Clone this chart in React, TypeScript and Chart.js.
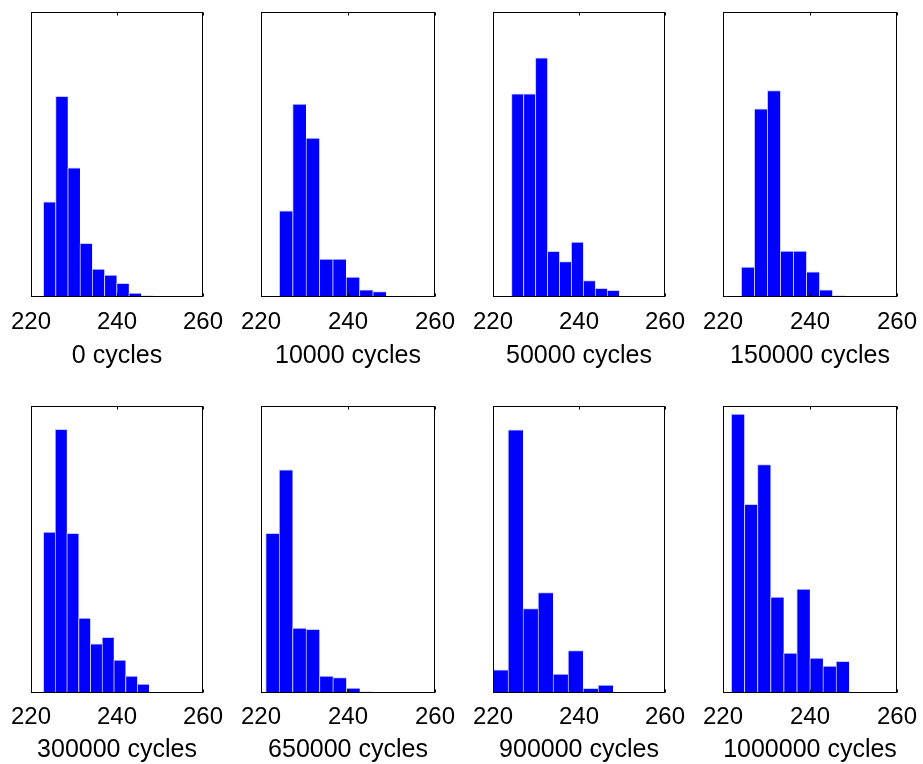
import React, { useEffect, useRef } from "react";
import { Chart, registerables } from "chart.js";

Chart.register(...registerables);

// ---------- data ----------
const xTickValues = [220, 240, 260];

const titles = [
  "0 cycles",
  "10000 cycles",
  "50000 cycles",
  "150000 cycles",
  "300000 cycles",
  "650000 cycles",
  "900000 cycles",
  "1000000 cycles",
];

// bin centres (x) and bar heights (relative counts, axis 0..100) per panel
const centers0 = [224.29, 227.13, 229.97, 232.81, 235.65, 238.49, 241.33, 244.17, 247.01, 249.85];
const counts0 = [33.4, 70.4, 45.3, 18.8, 9.8, 7.7, 4.8, 1.4, 0.5, 0.2];

const centers1 = [225.74, 228.81, 231.88, 234.95, 238.02, 241.09, 244.16, 247.23, 250.3, 253.37];
const counts1 = [30.2, 67.7, 55.8, 13.3, 13.3, 7.0, 2.5, 1.9, 0.1, 0.3];

const centers2 = [225.69, 228.47, 231.25, 234.03, 236.81, 239.59, 242.37, 245.15, 247.93, 250.71];
const counts2 = [71.3, 71.3, 83.9, 16.0, 12.4, 19.3, 5.8, 3.0, 2.3, 0.3];

const centers3 = [225.7, 228.69, 231.68, 234.67, 237.66, 240.65, 243.64, 246.63, 249.62, 252.61];
const counts3 = [10.5, 66.0, 72.4, 16.1, 16.1, 8.8, 2.5, 0.5, 0.1, 0.2];

const centers4 = [224.24, 226.97, 229.7, 232.43, 235.16, 237.89, 240.62, 243.35, 246.08, 248.81];
const counts4 = [56.1, 91.9, 55.6, 26.1, 17.1, 19.4, 11.5, 5.9, 3.1, 0.2];

const centers5 = [222.62, 225.71, 228.8, 231.89, 234.98, 238.07, 241.16, 244.25, 247.34, 250.43];
const counts5 = [55.6, 77.8, 22.6, 22.2, 5.9, 5.4, 1.7, 0.5, 0.1, 0.2];

const centers6 = [221.75, 225.24, 228.73, 232.22, 235.71, 239.2, 242.69, 246.18, 249.67, 253.16];
const counts6 = [8.1, 91.7, 29.4, 35.0, 6.6, 14.8, 1.6, 2.8, 0.1, 0.2];

const centers7 = [223.41, 226.42, 229.43, 232.44, 235.45, 238.46, 241.47, 244.48, 247.49, 250.5];
const counts7 = [97.2, 65.7, 79.6, 33.4, 13.9, 36.2, 12.2, 9.4, 11.0, 0.2];

const allCenters = [centers0, centers1, centers2, centers3, centers4, centers5, centers6, centers7];
const allCounts = [counts0, counts1, counts2, counts3, counts4, counts5, counts6, counts7];

// ---------- layout ----------
const colLeft = [31, 261, 493, 723];
const colWidth = [172, 174, 172, 174];
const rowTop = [12, 406];
const rowHeight = [285, 287];
const rowTickLine = [50, 48]; // px, tick label line box
const TITLE_LINE = 18; // px, title line box
const rowPadBottom = [10, 16];
const PAD_X = 25;
const PAD_T = 10;
const TICK_SIZE = 24;
const TITLE_SIZE = 25;
const FONT_FAMILY = "'Liberation Sans', Arial, Helvetica, sans-serif";

const framePlugin = {
  id: "frame",
  afterDatasetsDraw(chart: any) {
    const { ctx, chartArea: a, scales } = chart;
    ctx.save();
    ctx.strokeStyle = "#000";
    ctx.lineWidth = 1;
    const l = Math.round(a.left) + 0.5;
    const r = Math.round(a.right) - 0.5;
    const t = Math.round(a.top) + 0.5;
    const b = Math.round(a.bottom) - 0.5;
    ctx.strokeRect(l, t, r - l, b - t);
    const xs = scales.x;
    ctx.beginPath();
    for (const v of xTickValues) {
      const px = Math.round(xs.getPixelForValue(v)) + 0.5;
      ctx.moveTo(px, t);
      ctx.lineTo(px, t + 3);
      ctx.moveTo(px, b);
      ctx.lineTo(px, b - 3);
    }
    ctx.stroke();
    ctx.restore();
  },
};

function Panel({ index }: { index: number }) {
  const ref = useRef<HTMLCanvasElement | null>(null);
  const row = Math.floor(index / 4);
  const col = index % 4;
  const w = colWidth[col] + 2 * PAD_X;
  const h = PAD_T + rowHeight[row] + rowTickLine[row] + TITLE_LINE + rowPadBottom[row];

  useEffect(() => {
    if (!ref.current) return;
    const centers = allCenters[index];
    const counts = allCounts[index];
    const chart = new Chart(ref.current, {
      type: "bar",
      data: {
        datasets: [
          {
            data: centers.map((x, i) => ({ x, y: counts[i] })),
            backgroundColor: "#0000ff",
            borderColor: "#c8c8ff",
            borderWidth: { left: 1, top: 1, right: 0, bottom: 0 },
            borderSkipped: "start",
            barPercentage: 1,
            categoryPercentage: 1,
          } as any,
        ],
      },
      options: {
        responsive: false,
        animation: false,
        devicePixelRatio: 1,
        layout: { padding: { left: PAD_X, right: PAD_X, top: PAD_T, bottom: rowPadBottom[row] } },
        plugins: { legend: { display: false }, tooltip: { enabled: false } },
        scales: {
          x: {
            type: "linear",
            min: 220,
            max: 260,
            offset: false,
            grid: { display: false, drawTicks: false },
            border: { display: false },
            afterBuildTicks: (scale: any) => {
              scale.ticks = xTickValues.map((v) => ({ value: v }));
            },
            ticks: {
              padding: 0,
              color: "#000",
              maxRotation: 0,
              autoSkip: false,
              font: { family: FONT_FAMILY, size: TICK_SIZE, lineHeight: rowTickLine[row] / TICK_SIZE },
              callback: (v: any) => String(v),
            },
            title: {
              display: true,
              text: titles[index],
              color: "#000",
              font: { family: FONT_FAMILY, size: TITLE_SIZE, lineHeight: TITLE_LINE / TITLE_SIZE },
              padding: { top: 0, bottom: 0 },
            },
          },
          y: { display: false, min: 0, max: 100 },
        },
      } as any,
      plugins: [framePlugin],
    });
    return () => chart.destroy();
  }, [index]);

  return (
    <canvas
      ref={ref}
      width={w}
      height={h}
      style={{
        position: "absolute",
        left: colLeft[col] - PAD_X,
        top: rowTop[row] - PAD_T,
        width: w,
        height: h,
      }}
    />
  );
}

export default function App() {
  return (
    <div
      style={{
        position: "absolute",
        left: 0,
        top: 0,
        width: 923,
        height: 764,
        overflow: "hidden",
        background: "#fff",
      }}
    >
      {titles.map((_, i) => (
        <Panel key={i} index={i} />
      ))}
    </div>
  );
}
